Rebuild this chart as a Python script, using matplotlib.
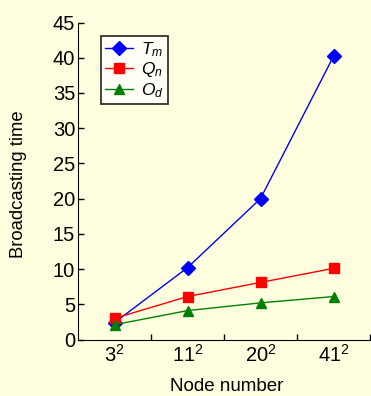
import matplotlib
matplotlib.use('Agg')
import matplotlib.pyplot as plt

plt.rcParams['font.family'] = ['Liberation Sans', 'DejaVu Sans']
plt.rcParams['mathtext.fontset'] = 'custom'
plt.rcParams['mathtext.rm'] = 'Liberation Sans'
plt.rcParams['mathtext.it'] = 'Liberation Sans:italic'

# 数据
node_labels = ['$3^2$', '$11^2$', '$20^2$', '$41^2$']
tm_values = [2.4, 10.2, 20.0, 40.2]
qn_values = [3.0, 6.1, 8.1, 10.1]
od_values = [2.1, 4.1, 5.2, 6.1]
y_ticks = [0, 5, 10, 15, 20, 25, 30, 35, 40, 45]

bg = '#FFFFE0'
fig = plt.figure(figsize=(3.71, 3.96), dpi=100, facecolor=bg)
ax = fig.add_axes([78 / 371, 1 - 339.5 / 396, 292 / 371, (339.5 - 22.5) / 396])
ax.set_facecolor(bg)

xs = [i + 0.5 for i in range(len(node_labels))]
ax.plot(xs, tm_values, color='#0000FF', marker='D', markersize=7, lw=1, label='$T_m$')
ax.plot(xs, qn_values, color='#FF0000', marker='s', markersize=6.5, lw=1, label='$Q_n$')
ax.plot(xs, od_values, color='#008000', marker='^', markersize=7, lw=1, label='$O_d$')

ax.set_xlim(0, 4)
ax.set_ylim(0, 45)
ax.set_yticks(y_ticks)
ax.set_xticks([1, 2, 3, 4])
ax.set_xticklabels([])
ax.set_xticks(xs, minor=True)
ax.set_xticklabels(node_labels, minor=True)
ax.tick_params(axis='x', which='major', direction='in', length=4, width=1)
ax.tick_params(axis='x', which='minor', length=0, pad=3, labelsize=14.5)
ax.tick_params(axis='y', direction='in', length=4.5, width=1, labelsize=14.5, pad=2)

ax.spines['top'].set_visible(False)
ax.spines['right'].set_visible(False)

ax.set_xlabel('Node number', fontsize=13.5, va='top')
ax.xaxis.set_label_coords(0.508, -0.122)
ax.set_ylabel('Broadcasting time', fontsize=13.3)
ax.yaxis.set_label_coords(-0.175, 0.49)

leg = ax.legend(loc='upper left', bbox_to_anchor=(0.079, 0.957), fontsize=12.5,
                frameon=True, fancybox=False, edgecolor='black', borderaxespad=0,
                handlelength=1.6, borderpad=0.22, labelspacing=0.1, handletextpad=0.5)
leg.get_frame().set_facecolor('white')
leg.get_frame().set_linewidth(1.3)

plt.savefig('out.png', dpi=100, facecolor=bg)
